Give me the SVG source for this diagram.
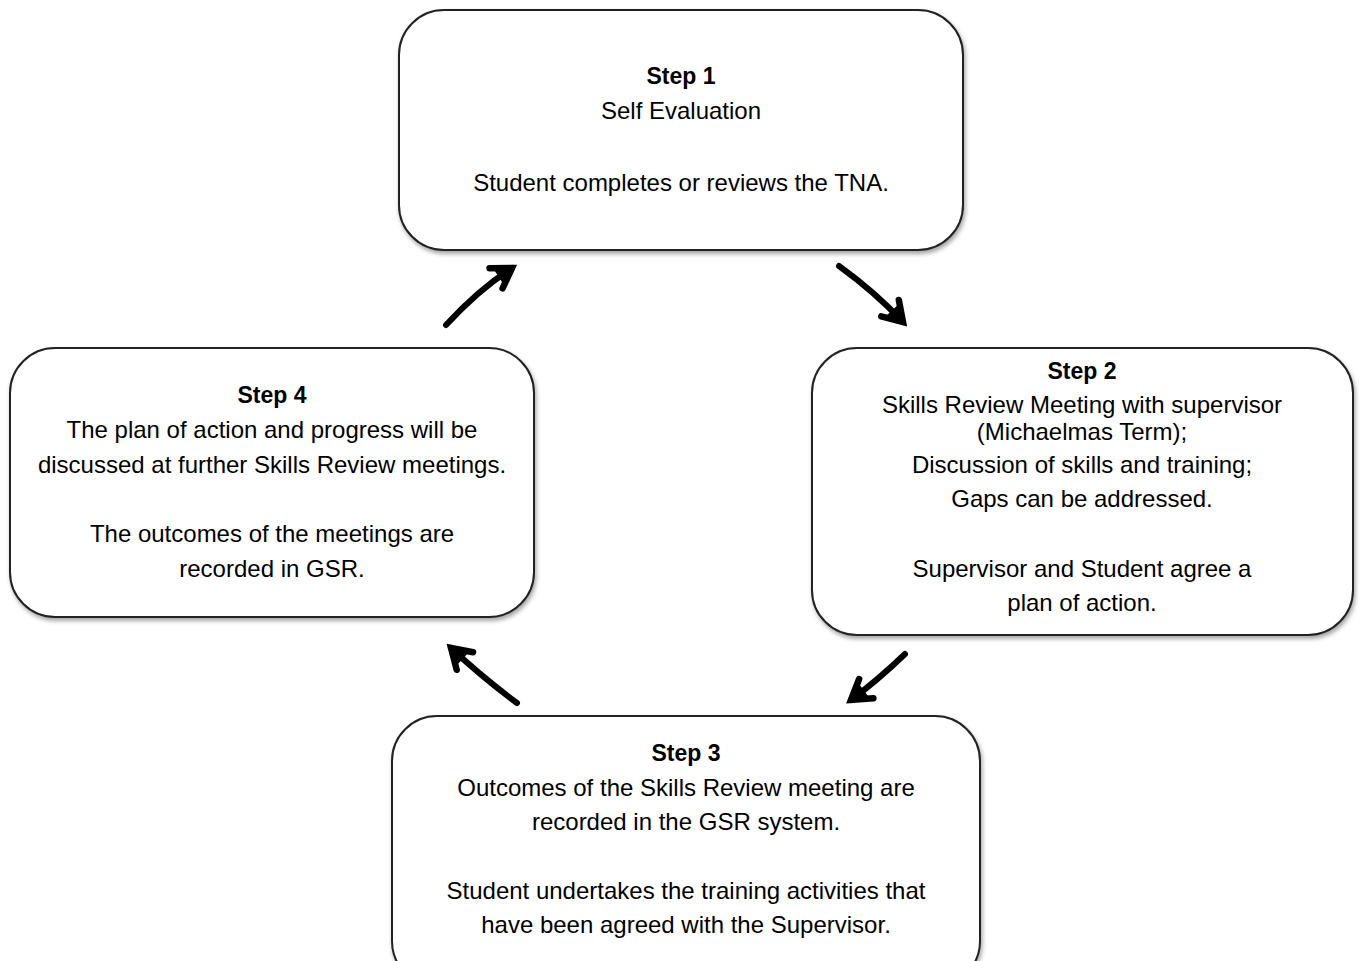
<svg xmlns="http://www.w3.org/2000/svg" width="1361" height="961" viewBox="0 0 1361 961">
<style>
.box{fill:#fff;stroke:#222;stroke-width:2;filter:url(#sh)}
text{font-family:"Liberation Sans",Arial,sans-serif;font-size:24px;fill:#000;text-anchor:middle}
.b{font-weight:bold;font-size:23px}
.arr{fill:none;stroke:#000;stroke-width:6;stroke-linecap:round;marker-end:url(#ah)}
</style>
<defs>
<filter id="sh" x="-5%" y="-5%" width="110%" height="115%">
<feDropShadow dx="1.5" dy="3" stdDeviation="2" flood-color="#000" flood-opacity="0.35"/>
</filter>
<marker id="ah" markerUnits="userSpaceOnUse" markerWidth="44" markerHeight="44" viewBox="-28 -22 44 44" refX="0" refY="0" orient="auto">
<path d="M-19,-12 L0,0 L-19,12" fill="none" stroke="#000" stroke-width="6.5" stroke-linejoin="miter" stroke-linecap="round"/>
<path d="M-16,-9 L2,0 L-16,9 z" fill="#000"/>
</marker>
</defs>
<rect width="1361" height="961" fill="#fff"/>
<g id="connectors">
<path class="arr" d="M446,325 Q478,290 512,268"/>
<path class="arr" d="M839,266 Q875,292 903,322"/>
<path class="arr" d="M905,654 Q878,680 851,700"/>
<path class="arr" d="M517,703 Q482,677 451,648"/>
</g>
<g id="step1">
<rect class="box" x="399" y="10" width="564" height="240" rx="45"/>
<text class="b" x="681" y="84">Step 1</text>
<text x="681" y="119">Self Evaluation</text>
<text x="681" y="191">Student completes or reviews the TNA.</text>
</g>
<g id="step2">
<rect class="box" x="812" y="348" width="541" height="287" rx="45"/>
<text class="b" x="1082" y="379">Step 2</text>
<text x="1082" y="413">Skills Review Meeting with supervisor</text>
<text x="1082" y="440">(Michaelmas Term);</text>
<text x="1082" y="473">Discussion of skills and training;</text>
<text x="1082" y="507">Gaps can be addressed.</text>
<text x="1082" y="577">Supervisor and Student agree a</text>
<text x="1082" y="611">plan of action.</text>
</g>
<g id="step3">
<rect class="box" x="392" y="716" width="588" height="270" rx="45"/>
<text class="b" x="686" y="761">Step 3</text>
<text x="686" y="796">Outcomes of the Skills Review meeting are</text>
<text x="686" y="830">recorded in the GSR system.</text>
<text x="686" y="899">Student undertakes the training activities that</text>
<text x="686" y="933">have been agreed with the Supervisor.</text>
</g>
<g id="step4">
<rect class="box" x="10" y="348" width="524" height="269" rx="45"/>
<text class="b" x="272" y="403">Step 4</text>
<text x="272" y="438">The plan of action and progress will be</text>
<text x="272" y="473">discussed at further Skills Review meetings.</text>
<text x="272" y="542">The outcomes of the meetings are</text>
<text x="272" y="577">recorded in GSR.</text>
</g>
</svg>
